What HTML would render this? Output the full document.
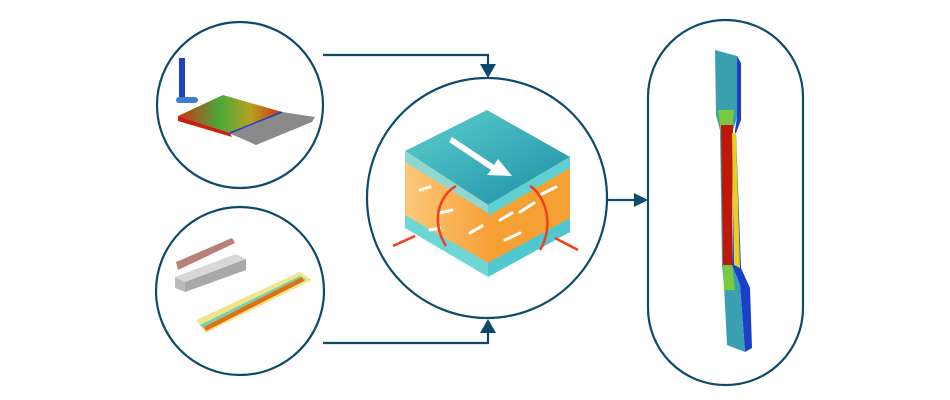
<!DOCTYPE html>
<html><head><meta charset="utf-8"><style>html,body{margin:0;padding:0;background:#fff;width:950px;height:400px;overflow:hidden}</style></head>
<body>
<svg width="950" height="400" viewBox="0 0 950 400" xmlns="http://www.w3.org/2000/svg">
<defs>
<linearGradient id="top" x1="0" y1="0" x2="1" y2="1"><stop offset="0" stop-color="#5ecfcf"/><stop offset="1" stop-color="#1a8fa5"/></linearGradient>
<linearGradient id="org" x1="0" y1="0" x2="1" y2="0"><stop offset="0" stop-color="#fcc77a"/><stop offset="1" stop-color="#f7a23a"/></linearGradient>
<linearGradient id="plate" x1="0" y1="0" x2="1" y2="0"><stop offset="0" stop-color="#d03018"/><stop offset="0.4" stop-color="#4aa83a"/><stop offset="0.7" stop-color="#b8a020"/><stop offset="1" stop-color="#d03018"/></linearGradient>
</defs>
<g fill="none" stroke="#0d4a6b" stroke-width="2.2">
<circle cx="240" cy="105" r="83"/>
<circle cx="240" cy="291" r="84"/>
<circle cx="487" cy="198" r="120"/>
<rect x="648" y="20" width="155" height="365" rx="77"/>
<polyline points="323,55 488,55 488,66"/>
<polyline points="323,343 488,343 488,332"/>
<line x1="608" y1="200" x2="636" y2="200"/>
</g>
<g fill="#0d4a6b">
<polygon points="480,64 496,64 488,78"/>
<polygon points="480,333 496,333 488,319"/>
<polygon points="634,193 634,207 648,200"/>
</g>
<!-- top-left plate -->
<rect x="179" y="58" width="6" height="42" fill="#2040c0"/>
<rect x="176" y="97" width="22" height="6" rx="3" fill="#3a7fd0"/>
<polygon points="228,133 282,112 315,117 312,122 256,145 238,137" fill="#8a8a8a"/>
<polygon points="178,116 223,95 282,112 230,133" fill="url(#plate)"/>
<polygon points="178,116 230,133 232,137 178,121" fill="#c82010"/>
<line x1="230" y1="133" x2="282" y2="112" stroke="#2040c0" stroke-width="1.5"/>
<!-- bottom-left -->
<polygon points="176,262 232,238 235,243 178,270" fill="#b9807a"/>
<polygon points="175,277 236,254 246,259 185,282" fill="#d8d8d8"/>
<polygon points="175,277 185,282 185,292 175,288" fill="#bbb"/>
<polygon points="185,282 246,259 246,270 185,292" fill="#a8a8a8"/>
<polygon points="196,320 300,272 312,280 206,333" fill="#e8e070" opacity="0.8"/>
<polygon points="200,325 300,276 306,280 206,330" fill="#60c8b0" opacity="0.8"/>
<polygon points="204,327 302,277 304,281 206,331" fill="#e07010"/>
<!-- center cube -->
<polygon points="405,151 487,110 570,157 488,205" fill="url(#top)"/>
<polygon points="405,151 488,205 488,275 405,225" fill="url(#org)"/>
<polygon points="488,205 570,157 570,232 488,275" fill="#f5a033"/>
<polygon points="405,151 488,205 488,213 405,162" fill="#8fd8d0"/>
<polygon points="405,215 488,263 488,277 405,228" fill="#6fd6d6"/>
<polygon points="488,205 570,157 570,168 488,216" fill="#5fcfd2"/>
<polygon points="488,263 570,218 570,232 488,277" fill="#4fc8cf"/>
<polygon points="452,137 494,165 498,159 512,176 487,175 491,170 449,142" fill="#fff"/>
<g stroke="#fff" stroke-width="3" stroke-linecap="round">
<line x1="420" y1="190" x2="430" y2="187"/><line x1="440" y1="213" x2="452" y2="210"/><line x1="500" y1="220" x2="512" y2="213"/><line x1="520" y1="212" x2="534" y2="203"/><line x1="505" y1="240" x2="520" y2="233"/><line x1="540" y1="195" x2="556" y2="187"/><line x1="470" y1="233" x2="482" y2="226"/><line x1="430" y1="230" x2="440" y2="228"/>
</g>
<g fill="none" stroke="#f04020" stroke-width="2.5">
<path d="M446,246 C430,220 440,195 456,186"/>
<path d="M540,250 C555,225 545,195 530,186"/>
<line x1="415" y1="236" x2="393" y2="246"/><line x1="555" y1="238" x2="578" y2="250"/>
</g>
<!-- right specimen -->
<polygon points="737,56 741,63 741,120 736,133 741,268 750,288 752,348 745,352 740,285 732,265 735,130 737,118" fill="#1a3fc8"/>
<polygon points="715,50 737,56 737,118 732,133 732,265 740,285 745,352 727,345 724,285 722,265 720,130 716,115" fill="#3aa0b0"/>
<polygon points="718,110 734,110 732,133 721,133" fill="#7cc840"/>
<polygon points="721,125 733,125 732,265 723,265" fill="#c01808"/>
<polygon points="732,133 736,133 740,268 734,265" fill="#e8d020"/>
<polygon points="723,265 732,265 735,290 724,290" fill="#7cc840"/>
</svg>
</body></html>
